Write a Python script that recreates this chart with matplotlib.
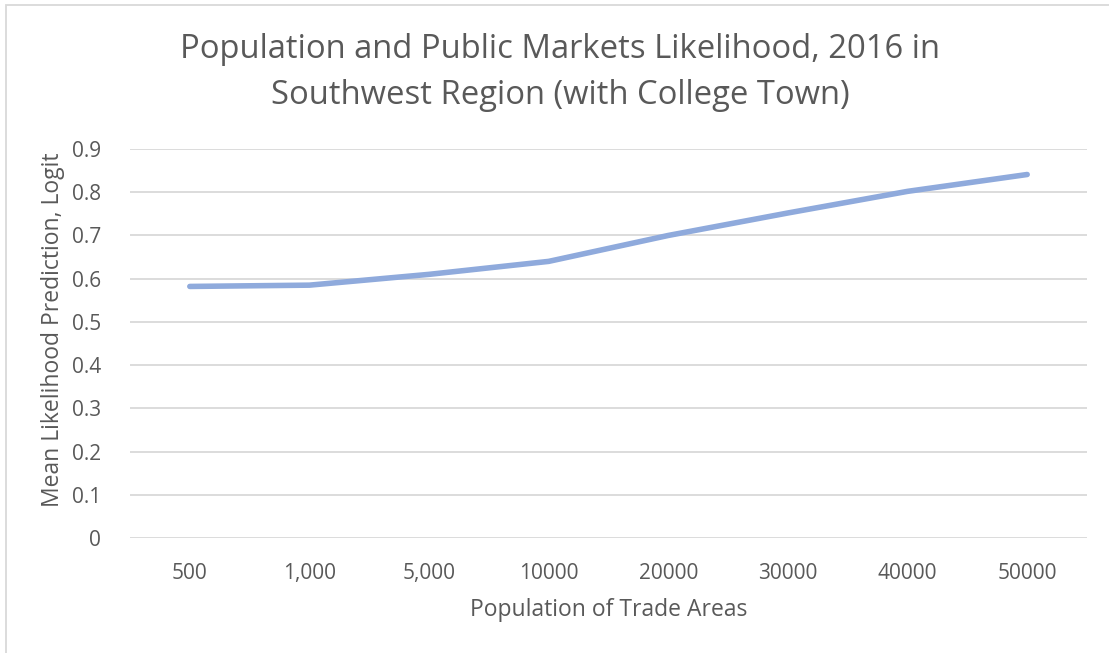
import matplotlib.pyplot as plt
from matplotlib.patches import Rectangle

plt.rcParams['font.family'] = ['Open Sans', 'DejaVu Sans']

populations = ['500', '1,000', '5,000', '10000', '20000', '30000', '40000', '50000']
likelihood = [0.582, 0.585, 0.610, 0.640, 0.700, 0.752, 0.802, 0.841]
y_ticks = [0, 0.1, 0.2, 0.3, 0.4, 0.5, 0.6, 0.7, 0.8, 0.9]
y_labels = ['0', '0.1', '0.2', '0.3', '0.4', '0.5', '0.6', '0.7', '0.8', '0.9']

txt = '#595959'
W, H = 1109, 653
fig = plt.figure(figsize=(W / 100, H / 100), dpi=100)
ax = fig.add_axes([130 / W, 1 - 538 / H, (1087 - 130) / W, (538 - 149) / H])

# outer chart frame, runs off the right and bottom edge
fig.patches.append(Rectangle((6 / W, -0.05), 1.2, 1 - 5 / H + 0.05,
                             transform=fig.transFigure, fill=False,
                             edgecolor='#d9d9d9', linewidth=1.3))

x = list(range(len(populations)))
ax.plot(x, likelihood, color='#8faadc', linewidth=4, solid_capstyle='round',
        solid_joinstyle='round', zorder=3)

ax.set_xlim(-0.5, len(populations) - 0.5)
ax.set_ylim(0, 0.9)
ax.set_yticks(y_ticks)
ax.set_yticklabels(y_labels)
ax.set_xticks(x)
ax.set_xticklabels(populations)
ax.grid(axis='y', color='#d9d9d9', linewidth=1.3)
ax.set_axisbelow(True)
for s in ax.spines.values():
    s.set_visible(False)
ax.tick_params(length=0, labelsize=15, labelcolor=txt)
ax.tick_params(axis='y', pad=21)
ax.tick_params(axis='x', pad=18)

ax.set_xlabel('Population of Trade Areas', fontsize=16.5, color=txt, labelpad=10)
ax.set_ylabel('Mean Likelihood Prediction, Logit', fontsize=16.5, color=txt)
ax.yaxis.set_label_coords(-0.068, 0.535)

fig.text(560 / W, 1 - 50 / H, 'Population and Public Markets Likelihood, 2016 in',
         ha='center', va='center', fontsize=23.6, color=txt)
fig.text(560 / W, 1 - 95 / H, 'Southwest Region (with College Town)',
         ha='center', va='center', fontsize=23.6, color=txt)

fig.savefig('out.png', dpi=100)
